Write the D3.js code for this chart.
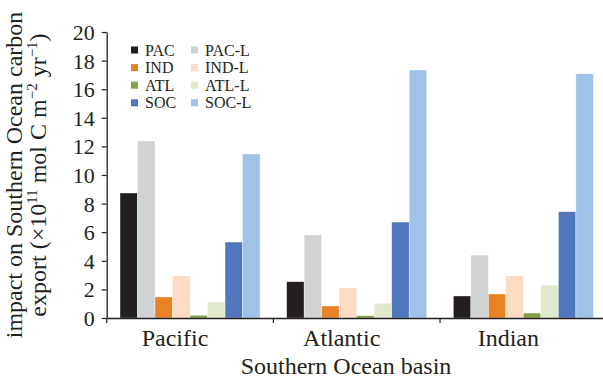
<!DOCTYPE html>
<html>
<head>
<meta charset="utf-8">
<script src="https://cdn.jsdelivr.net/npm/d3@7"></script>
<style>
  body { margin: 0; background: #fff; }
  svg text { font-family: "Liberation Serif", "Times New Roman", serif; fill: #231f20; }
</style>
</head>
<body>
<div id="container"></div>
<script>
/* CONSTANTS AND GLOBALS */
const width = 603;
const height = 380;

// basins on the x axis
const basins = ["Pacific", "Atlantic", "Indian"];
// series, in bar order
const series = ["PAC", "PAC-L", "IND", "IND-L", "ATL", "ATL-L", "SOC", "SOC-L"];
const colors = ["#231f20", "#d1d2d4", "#e98125", "#fcdbc2", "#83a04a", "#dfe8c9", "#5077bd", "#9fc3e6"];

// values, one array per basin (same order as series)
const pacific  = [8.74, 12.38, 1.47, 2.94, 0.19, 1.12, 5.31, 11.47];
const atlantic = [2.54, 5.80, 0.84, 2.10, 0.16, 1.03, 6.71, 17.34];
const indian   = [1.54, 4.40, 1.68, 2.94, 0.35, 2.29, 7.43, 17.08];

const yTicks = [0, 2, 4, 6, 8, 10, 12, 14, 16, 18, 20];

const values = { Pacific: pacific, Atlantic: atlantic, Indian: indian };
const data = basins.map(b => ({
  basin: b,
  bars: series.map((s, i) => ({ series: s, value: values[b][i] }))
}));

/* SCALES */
const yScale = d3.scaleLinear()
  .domain([0, 20])
  .range([318, 32]);

// the axis runs off the right edge of the picture
const x0 = d3.scaleBand()
  .domain(basins)
  .range([106.7, 606.7])
  .padding(0);

const x1 = d3.scaleBand()
  .domain(series)
  .range([0, x0.bandwidth()])
  .paddingInner(0)
  .paddingOuter(0.76);

const colorScale = d3.scaleOrdinal()
  .domain(series)
  .range(colors);

/* SVG */
const svg = d3.select("#container")
  .append("svg")
  .attr("width", width)
  .attr("height", height);

// bars
const groups = svg.selectAll("g.basin")
  .data(data)
  .join("g")
  .attr("class", "basin")
  .attr("transform", d => `translate(${x0(d.basin)},0)`);

groups.selectAll("rect")
  .data(d => d.bars)
  .join("rect")
  .attr("x", d => x1(d.series))
  .attr("width", x1.bandwidth())
  .attr("y", d => yScale(d.value))
  .attr("height", d => yScale(0) - yScale(d.value))
  .attr("fill", d => colorScale(d.series))
  .attr("stroke", "#fff")
  .attr("stroke-opacity", 0.6)
  .attr("stroke-width", 0.6);

// y axis
const yAxis = svg.append("g")
  .attr("transform", `translate(${x0.range()[0]},0)`)
  .call(d3.axisLeft(yScale).tickValues(yTicks).tickSize(5).tickSizeOuter(0).tickPadding(7));

yAxis.select(".domain").attr("stroke", "#231f20").attr("stroke-width", 1.3);
yAxis.selectAll(".tick line").attr("stroke", "#231f20").attr("stroke-width", 1.2);
yAxis.selectAll(".tick text")
  .attr("font-size", 22)
  .attr("dy", "0.34em");

// x axis
const xAxis = svg.append("g")
  .attr("transform", `translate(0,${yScale(0)})`)
  .call(d3.axisBottom(x0).tickSize(0).tickSizeOuter(0));

xAxis.select(".domain").attr("stroke", "#231f20").attr("stroke-width", 1.3);
xAxis.selectAll(".tick text")
  .attr("font-size", 24)
  .attr("y", 28)
  .attr("dy", 0)
  .attr("dx", -15);

// tick marks sit between the basins
xAxis.selectAll("line.sep")
  .data(basins)
  .join("line")
  .attr("class", "sep")
  .attr("x1", d => x0(d))
  .attr("x2", d => x0(d))
  .attr("y1", 0)
  .attr("y2", 5)
  .attr("stroke", "#231f20")
  .attr("stroke-width", 1.2);

// x title
svg.append("text")
  .attr("x", 346)
  .attr("y", 374)
  .attr("text-anchor", "middle")
  .attr("font-size", 24)
  .text("Southern Ocean basin");

// y title, two lines
const yTitle = svg.append("g")
  .attr("transform", "translate(0,175) rotate(-90)");

yTitle.append("text")
  .attr("x", 0)
  .attr("y", 22)
  .attr("text-anchor", "middle")
  .attr("font-size", 24)
  .text("impact on Southern Ocean carbon");

const line2 = yTitle.append("text")
  .attr("x", 0)
  .attr("y", 46)
  .attr("text-anchor", "middle")
  .attr("font-size", 24);

line2.append("tspan").text("export (\u00d710");
line2.append("tspan").attr("dy", -9).attr("font-size", 15).text("11");
line2.append("tspan").attr("dy", 9).text(" mol C m");
line2.append("tspan").attr("dy", -9).attr("font-size", 15).text("\u22122");
line2.append("tspan").attr("dy", 9).text(" yr");
line2.append("tspan").attr("dy", -9).attr("font-size", 15).text("\u22121");
line2.append("tspan").attr("dy", 9).text(")");

// legend, two columns (base series left, -L series right)
const legend = svg.append("g")
  .attr("transform", "translate(131,50)");

const legendItems = legend.selectAll("g.item")
  .data(series)
  .join("g")
  .attr("class", "item")
  .attr("transform", (d, i) => `translate(${(i % 2) * 60},${Math.floor(i / 2) * 17.6})`);

legendItems.append("rect")
  .attr("x", 0)
  .attr("y", -3.5)
  .attr("width", 7)
  .attr("height", 7)
  .attr("fill", d => colorScale(d));

legendItems.append("text")
  .attr("x", 14)
  .attr("y", 5.5)
  .attr("font-size", 16)
  .text(d => d);
</script>
</body>
</html>
